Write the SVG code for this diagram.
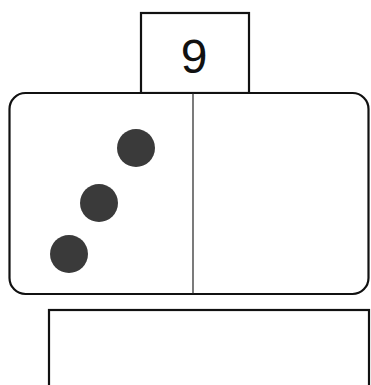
<svg xmlns="http://www.w3.org/2000/svg" width="371" height="385" viewBox="0 0 371 385">
<style>
.box{fill:#fff;stroke:#111;stroke-width:2.2}
.div{stroke:#222;stroke-width:1.2}
.dot{fill:#3a3a3a}
.lbl{font-family:"Liberation Sans",Arial,sans-serif;font-size:48px;fill:#111;text-anchor:middle}
</style>
<rect width="371" height="385" fill="#fff"/>
<g id="number-box">
<rect class="box" x="141" y="13" width="108" height="80"/>
<text class="lbl" x="194" y="73">9</text>
</g>
<g id="domino">
<rect class="box" x="9.5" y="93" width="359" height="201" rx="16"/>
<line class="div" x1="193" y1="93" x2="193" y2="294"/>
<circle class="dot" cx="136" cy="148" r="19"/>
<circle class="dot" cx="99" cy="203" r="19"/>
<circle class="dot" cx="69" cy="254" r="19"/>
</g>
<g id="answer-box">
<rect class="box" x="49" y="310" width="320" height="90"/>
</g>
<g id="connectors"></g>
</svg>
